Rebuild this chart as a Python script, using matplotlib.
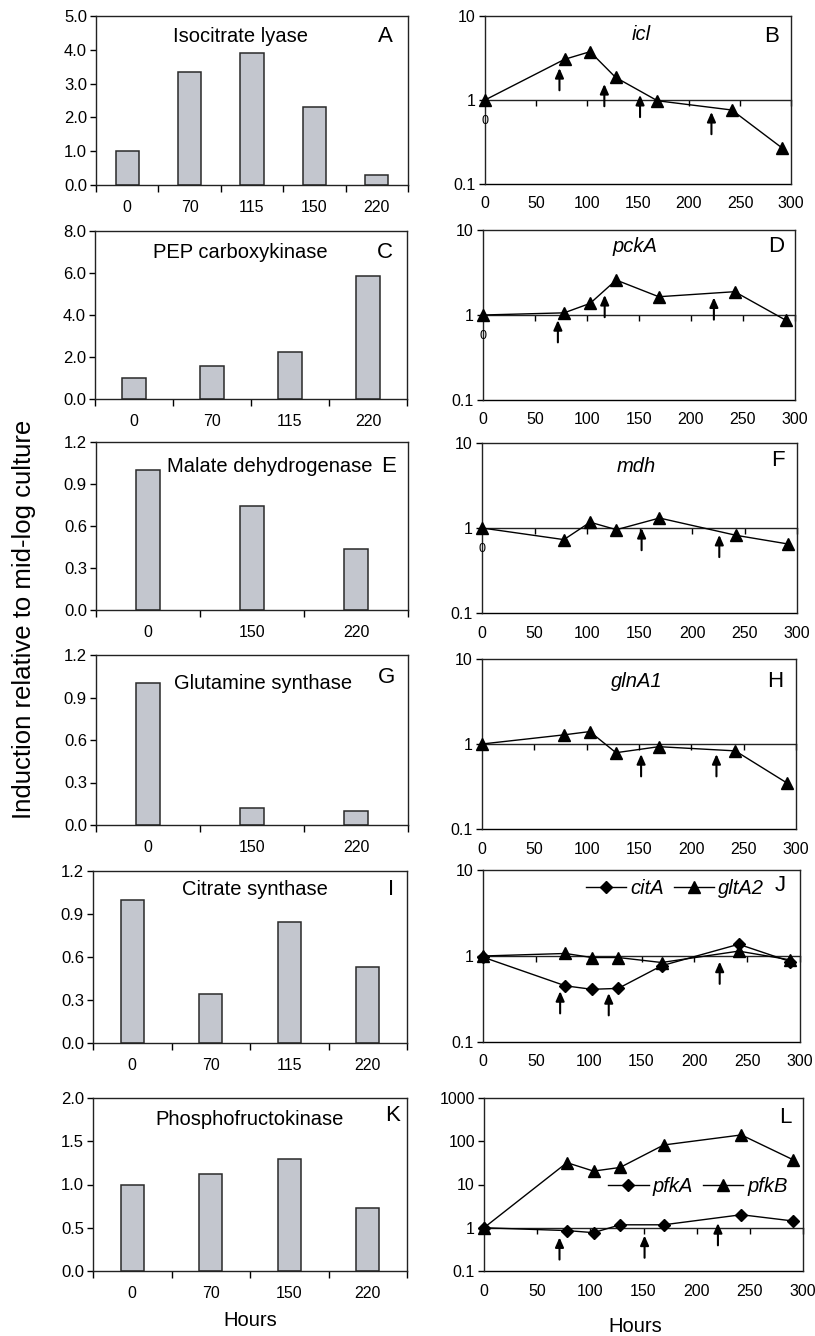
import numpy as np
import matplotlib
matplotlib.use('Agg')
import matplotlib.pyplot as plt
from matplotlib.ticker import FixedLocator, NullLocator, FuncFormatter
from matplotlib.lines import Line2D

plt.rcParams['font.family'] = ['Liberation Sans', 'DejaVu Sans']
plt.rcParams['font.size'] = 11.5

# enzyme activity (bar panels)
icl_hours = ['0', '70', '115', '150', '220']
icl_act = [1.0, 3.35, 3.9, 2.32, 0.3]
pck_hours = ['0', '70', '115', '220']
pck_act = [1.0, 1.55, 2.23, 5.87]
mdh_hours = ['0', '150', '220']
mdh_act = [1.0, 0.745, 0.435]
gln_hours = ['0', '150', '220']
gln_act = [1.0, 0.122, 0.099]
cit_hours = ['0', '70', '115', '220']
cit_act = [1.0, 0.345, 0.846, 0.53]
pfk_hours = ['0', '70', '150', '220']
pfk_act = [1.0, 1.127, 1.29, 0.734]

# transcript induction (line panels)
times = [0, 78, 103, 128, 169, 242, 291]
icl = [1.0, 3.05, 3.76, 1.86, 0.98, 0.76, 0.27]
pckA = [1.0, 1.06, 1.37, 2.58, 1.64, 1.88, 0.87]
mdh = [1.0, 0.73, 1.17, 0.955, 1.31, 0.82, 0.65]
glnA1 = [1.0, 1.28, 1.40, 0.79, 0.93, 0.83, 0.35]
citA = [0.97, 0.45, 0.41, 0.42, 0.77, 1.37, 0.86]
gltA2 = [1.0, 1.07, 0.96, 0.96, 0.84, 1.14, 0.90]
pfkA = [1.0, 0.86, 0.77, 1.17, 1.17, 2.0, 1.43]
pfkB = [1.0, 32, 20.4, 24.8, 82, 140, 37]

# arrows: hour and arrow tip value
icl_arr_x, icl_arr_tip = [73, 117, 152, 222], [2.4, 1.55, 1.15, 0.72]
pck_arr_x, pck_arr_tip = [72, 117, 222], [0.87, 1.72, 1.61]
mdh_arr_x, mdh_arr_tip = [152, 226], [1.0, 0.83]
gln_arr_x, gln_arr_tip = [152, 224], [0.76, 0.76]
cit_arr_x, cit_arr_tip = [73, 119, 224], [0.39, 0.37, 0.86]
pfk_arr_x, pfk_arr_tip = [71, 151, 220], [0.6, 0.66, 1.28]

BAR_C = '#c3c6ce'
EDGE_C = '#2a2a2a'

fig = plt.figure(figsize=(8.15, 13.36), dpi=100)


def px_axes(left, top, right, bottom):
    return fig.add_axes([left / 815, 1 - bottom / 1336,
                         (right - left) / 815, (bottom - top) / 1336])


def style_spines(ax):
    for s in ax.spines.values():
        s.set_linewidth(1.0)
        s.set_color('#222222')


def bar_panel(rect, hours, vals, ymax, ystep, title, tpos, letter, lpos, title_ha='center'):
    ax = px_axes(*rect)
    n = len(hours)
    pos = np.arange(n)
    ax.bar(pos, vals, width=0.074 * n, color=BAR_C, edgecolor=EDGE_C, linewidth=1.1, zorder=2)
    ax.set_xlim(-0.5, n - 0.5)
    ax.set_ylim(0, ymax)
    ax.set_yticks(np.arange(0, ymax + ystep / 2, ystep))
    ax.yaxis.set_major_formatter(FuncFormatter(lambda v, p: f'{v:.1f}'))
    ax.set_xticks(np.arange(n + 1) - 0.5)
    ax.set_xticklabels([])
    ax.set_xticks(pos, minor=True)
    ax.set_xticklabels(hours, minor=True)
    ax.tick_params(axis='x', which='major', direction='out', length=5, width=1)
    ax.tick_params(axis='x', which='minor', length=0, pad=11)
    ax.tick_params(axis='y', direction='out', length=4.5, width=1, pad=2, labelsize=12)
    style_spines(ax)
    ax.text(tpos[0], tpos[1], title, transform=ax.transAxes, ha=title_ha, va='center', fontsize=14.5)
    ax.text(lpos[0], lpos[1], letter, transform=ax.transAxes, ha='center', va='center', fontsize=16,
            bbox=dict(facecolor='white', edgecolor='none', pad=1.5))
    return ax


def line_panel(rect, ymax, series, gene, gpos, letter, lpos, arr_x, arr_tip, zero=False):
    ax = px_axes(*rect)
    ax.set_yscale('log')
    ax.set_ylim(0.1, ymax)
    ax.set_xlim(0, 300)
    for vals, m, ms in series:
        ax.plot(times, vals, color='black', lw=1.0, marker=m, ms=ms, clip_on=False, zorder=3)
    ax.spines['bottom'].set_position(('data', 1))
    ax.set_xticks(np.arange(0, 301, 50))
    ax.tick_params(axis='x', direction='out', length=4, width=1, labelbottom=False)
    decades = 10.0 ** np.arange(-1, np.log10(ymax) + 0.5)
    ax.yaxis.set_major_locator(FixedLocator(decades))
    ax.yaxis.set_minor_locator(NullLocator())
    ax.yaxis.set_major_formatter(FuncFormatter(lambda v, p: f'{v:g}'))
    ax.tick_params(axis='y', direction='out', length=4.5, width=1, pad=2)
    style_spines(ax)
    sec = ax.secondary_xaxis(0.0)
    sec.set_xticks(np.arange(0, 301, 50))
    sec.tick_params(length=0, pad=9)
    sec.spines['bottom'].set_linewidth(1.0)
    for x, tip in zip(arr_x, arr_tip):
        ax.annotate('', xy=(x, tip), xytext=(0, -16), textcoords='offset points',
                    arrowprops=dict(arrowstyle='-|>,head_length=0.5,head_width=0.22',
                                    lw=1.5, color='black', shrinkA=0, shrinkB=0))
    if gene:
        ax.text(gpos[0], gpos[1], gene, transform=ax.transAxes, ha='center', va='center',
                fontsize=14.5, style='italic')
    ax.text(lpos[0], lpos[1], letter, transform=ax.transAxes, ha='center', va='center', fontsize=16)
    if zero:
        ax.text(0, 0.56, '0', ha='center', va='center', fontsize=9)
    return ax


bar_panel((96, 16, 408, 185), icl_hours, icl_act, 5.0, 1.0, 'Isocitrate lyase', (0.462, 0.876), 'A', (0.926, 0.876))
bar_panel((95, 231, 407, 399), pck_hours, pck_act, 8.0, 2.0, 'PEP carboxykinase', (0.465, 0.875), 'C', (0.93, 0.875))
bar_panel((96, 442, 408, 610), mdh_hours, mdh_act, 1.2, 0.3, 'Malate dehydrogenase', (0.228, 0.853), 'E', (0.938, 0.853), title_ha='left')
bar_panel((96, 655, 408, 825), gln_hours, gln_act, 1.2, 0.3, 'Glutamine synthase', (0.535, 0.833), 'G', (0.932, 0.865))
bar_panel((93, 871, 407, 1043), cit_hours, cit_act, 1.2, 0.3, 'Citrate synthase', (0.516, 0.89), 'I', (0.948, 0.89))
bar_panel((93, 1098, 407, 1271), pfk_hours, pfk_act, 2.0, 0.5, 'Phosphofructokinase', (0.5, 0.873), 'K', (0.955, 0.9))

line_panel((485, 16, 791, 184), 10, [(icl, '^', 8)], 'icl', (0.512, 0.887), 'B', (0.937, 0.877),
           icl_arr_x, icl_arr_tip, zero=True)
line_panel((483, 230, 795, 400), 10, [(pckA, '^', 8)], 'pckA', (0.487, 0.90), 'D', (0.941, 0.90),
           pck_arr_x, pck_arr_tip, zero=True)
line_panel((482, 443, 797, 613), 10, [(mdh, '^', 8)], 'mdh', (0.489, 0.86), 'F', (0.94, 0.90),
           mdh_arr_x, mdh_arr_tip, zero=True)
line_panel((482, 659, 796, 829), 10, [(glnA1, '^', 8)], 'glnA1', (0.493, 0.866), 'H', (0.933, 0.87),
           gln_arr_x, gln_arr_tip)
axJ = line_panel((483, 870, 800, 1042), 10, [(citA, 'D', 6), (gltA2, '^', 8)], None, None, 'J', (0.937, 0.91),
                 cit_arr_x, cit_arr_tip)
axL = line_panel((484, 1098, 803, 1271), 1000, [(pfkA, 'D', 6), (pfkB, '^', 8)], None, None, 'L', (0.944, 0.89),
                 pfk_arr_x, pfk_arr_tip)

for ax, labels, cpos in [(axJ, ['citA', 'gltA2'], (0.606, 0.895)), (axL, ['pfkA', 'pfkB'], (0.671, 0.486))]:
    handles = [Line2D([], [], color='black', lw=1.0, marker='D', ms=6),
               Line2D([], [], color='black', lw=1.0, marker='^', ms=8)]
    ax.legend(handles, labels, ncol=2, frameon=False, loc='center', bbox_to_anchor=cpos,
              handlelength=2.0, handletextpad=0.2, columnspacing=0.5, borderpad=0,
              prop={'style': 'italic', 'size': 14.5})

fig.text(24 / 815, 1 - 619 / 1336, 'Induction relative to mid-log culture', rotation=90,
         ha='center', va='center', fontsize=18.5)
fig.text(250 / 815, 1 - 1320 / 1336, 'Hours', ha='center', va='center', fontsize=14.5)
fig.text(635 / 815, 1 - 1327 / 1336, 'Hours', ha='center', va='center', fontsize=14.5)

fig.savefig('out.png', dpi=100)
